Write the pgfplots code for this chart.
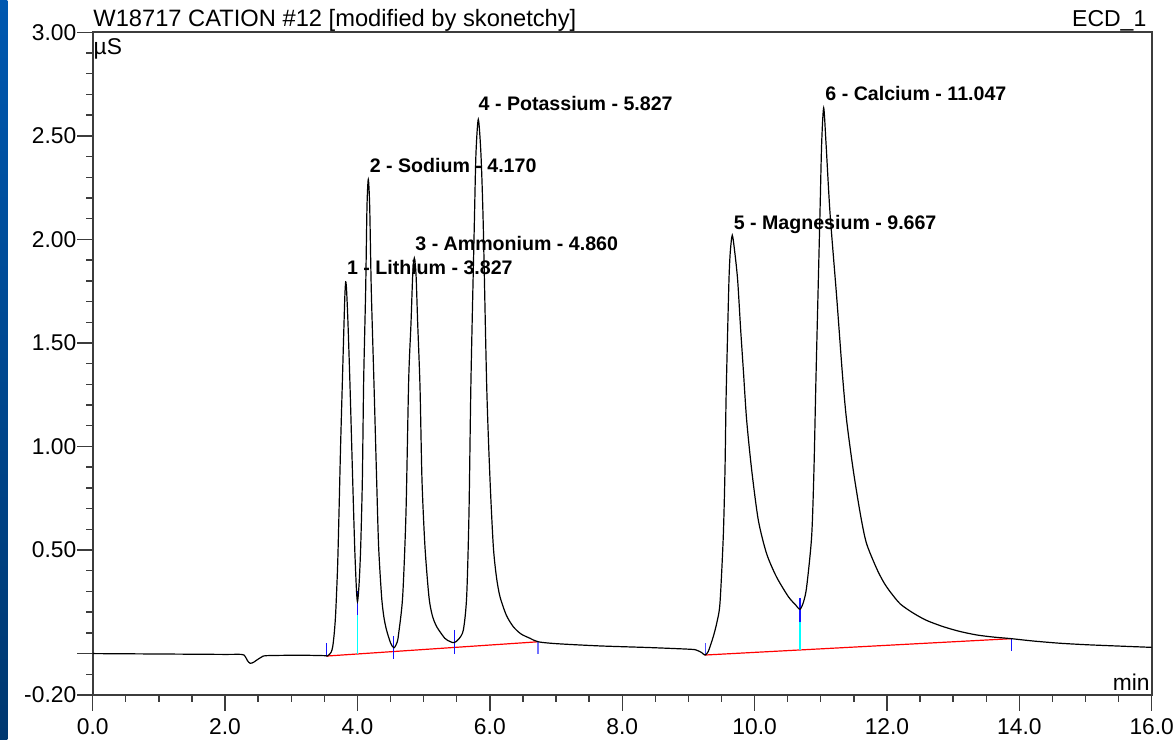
\documentclass[border=0pt]{standalone}
\usepackage{pgfplots}
\pgfplotsset{compat=1.18}
\usepackage{fontspec}
\setmainfont{Liberation Sans}
\definecolor{pkblue}{RGB}{20,20,255}
\definecolor{pkcyan}{RGB}{0,255,255}
\definecolor{axgray}{RGB}{60,60,60}
\begin{document}
\begin{tikzpicture}
\begin{axis}[
  scale only axis,
  width=529.5pt, height=331.35pt,
  at={(0,0)}, anchor=south west,
  xmin=0, xmax=16, ymin=-0.2, ymax=3.0,
  axis line style={axgray, line width=0.9pt},
  every tick/.style={axgray, line width=0.7pt},
  tick align=outside,
  xtick pos=bottom, ytick pos=left,
  major tick length=7.75pt, minor tick length=3.3pt,
  xtick={0,2,4,6,8,10,12,14,16},
  xticklabels={0.0,2.0,4.0,6.0,8.0,10.0,12.0,14.0,16.0},
  minor x tick num=3,
  ytick={-0.2,0,0.5,1.0,1.5,2.0,2.5,3.0},
  yticklabels={-0.20,,0.50,1.00,1.50,2.00,2.50,3.00},
  minor ytick={-0.1,0.1,0.2,0.3,0.4,0.6,0.7,0.8,0.9,1.1,1.2,1.3,1.4,1.6,1.7,1.8,1.9,2.1,2.2,2.3,2.4,2.6,2.7,2.8,2.9},
  ticklabel style={font=\fontsize{11.4}{12}\selectfont},
  xticklabel style={inner sep=0pt, yshift=-3.8pt},
  yticklabel style={inner sep=0pt, xshift=-0.3pt},
  clip=false,
]
% baselines (red)
\addplot[red, line width=0.6pt] coordinates {(3.53,-0.012) (6.73,0.057)};
\addplot[red, line width=0.6pt] coordinates {(9.25,-0.007) (13.88,0.072)};
% drop lines (cyan)
\addplot[pkcyan, line width=0.7pt] coordinates {(4.0,-0.002) (4.0,0.186)};
\addplot[pkcyan, line width=0.7pt] coordinates {(10.686,0.018) (10.686,0.153)};
% boundary ticks (blue)
\addplot[pkblue, line width=0.7pt] coordinates {(3.53,0.05) (3.53,-0.012)};
\addplot[pkblue, line width=0.7pt] coordinates {(4.0,0.30) (4.0,0.186)};
\addplot[pkblue, line width=0.7pt] coordinates {(4.548,0.085) (4.548,-0.028)};
\addplot[pkblue, line width=0.7pt] coordinates {(5.463,0.114) (5.463,-0.002)};
\addplot[pkblue!60, line width=0.7pt] coordinates {(6.73,0.057) (6.73,-0.002)};
\addplot[pkblue!75, line width=0.7pt] coordinates {(9.26,0.05) (9.26,-0.007)};
\addplot[pkblue, line width=0.7pt] coordinates {(10.686,0.266) (10.686,0.153)};
\addplot[pkblue, line width=0.7pt] coordinates {(13.88,0.072) (13.88,0.014)};
% chromatogram
\addplot[black, line width=0.6pt, smooth, tension=0.45] coordinates {
(0.00,0.000) (0.50,-0.001) (1.00,-0.002) (1.50,-0.003) (2.00,-0.004) (2.25,-0.004)
(2.30,-0.012) (2.34,-0.035) (2.38,-0.047) (2.43,-0.042) (2.48,-0.031) (2.55,-0.017)
(2.63,-0.010) (3.13,-0.008) (3.50,-0.010) (3.545,-0.012) (3.60,0.005) (3.626,0.033)
(3.65,0.10) (3.671,0.195) (3.70,0.42) (3.721,0.677) (3.745,1.0) (3.771,1.30)
(3.797,1.595) (3.810,1.73) (3.822,1.795) (3.835,1.76) (3.857,1.595) (3.888,1.289)
(3.928,0.838) (3.958,0.516) (3.978,0.355) (3.990,0.28) (4.000,0.25) (4.012,0.28)
(4.028,0.355) (4.049,0.516) (4.074,0.838) (4.094,1.321) (4.124,1.756) (4.144,2.158)
(4.164,2.29) (4.185,2.158) (4.209,1.756) (4.25,1.30) (4.29,0.838) (4.32,0.516)
(4.365,0.274) (4.40,0.175) (4.44,0.113) (4.502,0.05) (4.552,0.028) (4.60,0.055) (4.623,0.098)
(4.683,0.275) (4.733,0.677) (4.774,1.321) (4.809,1.595) (4.835,1.83) (4.859,1.91)
(4.885,1.83) (4.91,1.595) (4.945,1.289) (4.975,0.838) (5.02,0.516) (5.08,0.275)
(5.13,0.185) (5.197,0.13) (5.32,0.074) (5.40,0.058) (5.463,0.053) (5.53,0.07) (5.60,0.114)
(5.65,0.275) (5.685,0.677) (5.715,1.321) (5.766,2.078) (5.79,2.41) (5.826,2.58)
(5.866,2.41) (5.90,2.078) (5.953,1.289) (6.003,0.838) (6.053,0.516) (6.10,0.37) (6.153,0.275)
(6.25,0.185) (6.354,0.13) (6.47,0.095) (6.606,0.074) (6.73,0.057) (7.0,0.048) (7.66,0.037) (8.42,0.029)
(9.02,0.021) (9.12,0.017) (9.20,0.005) (9.25,-0.007) (9.30,0.010) (9.376,0.082)
(9.43,0.15) (9.477,0.243) (9.527,0.565) (9.553,0.887) (9.568,1.209) (9.585,1.45)
(9.613,1.804) (9.633,1.94) (9.663,2.02) (9.70,1.94) (9.744,1.804) (9.79,1.5625)
(9.83,1.37) (9.88,1.128) (9.956,0.887) (10.056,0.645) (10.18,0.484) (10.33,0.371)
(10.51,0.275) (10.62,0.235) (10.686,0.214) (10.74,0.25) (10.787,0.323) (10.862,0.565)
(10.897,0.887) (10.928,1.337) (10.988,2.126) (11.013,2.46) (11.044,2.635) (11.08,2.46)
(11.14,2.126) (11.24,1.723) (11.33,1.337) (11.39,1.128) (11.49,0.887) (11.60,0.67)
(11.69,0.533) (11.845,0.41) (11.95,0.345) (12.045,0.30) (12.2,0.24) (12.4,0.195) (12.6,0.16) (12.85,0.13)
(13.1,0.107) (13.355,0.09) (13.6,0.08) (13.88,0.072) (14.2,0.061) (14.61,0.05) (15.0,0.043) (15.37,0.038) (16.0,0.030)
};
% peak labels
\begin{scope}[every node/.style={anchor=base west, inner sep=0pt, yshift=3pt, font=\fontsize{9.8}{11}\selectfont\bfseries}]
\node at (axis cs:3.837,1.80) {1 - Lithium - 3.827};
\node at (axis cs:4.18,2.295) {2 - Sodium - 4.170};
\node at (axis cs:4.87,1.916) {3 - Ammonium - 4.860};
\node at (axis cs:5.826,2.585) [yshift=0.8pt] {4 - Potassium - 5.827};
\node at (axis cs:9.68,2.021) {5 - Magnesium - 9.667};
\node at (axis cs:11.065,2.641) {6 - Calcium - 11.047};
\end{scope}
\end{axis}
% left blue strip
\shade[top color={rgb,255:red,0;green,88;blue,176}, bottom color={rgb,255:red,0;green,56;blue,112}]
  (-46.35pt,-22pt) rectangle (-42.6pt,347.5pt);
% texts
\node[anchor=base west, inner sep=0pt, font=\fontsize{11.85}{13}\selectfont] at (0.15pt,334.15pt) {W18717 CATION \#12 [modified by skonetchy]};
\node[anchor=base east, inner sep=0pt, font=\fontsize{11.5}{13}\selectfont] at (527pt,334.15pt) {ECD\_1};
\node[anchor=base west, inner sep=0pt, font=\fontsize{11.4}{13}\selectfont] at (0.3pt,320pt) {µS};
\node[anchor=base east, inner sep=0pt, font=\fontsize{11.4}{13}\selectfont] at (528.65pt,2.5pt) {min};
\pgfresetboundingbox
\useasboundingbox (-46.35pt,-22pt) rectangle (541.65pt,347.5pt);
\end{tikzpicture}
\end{document}
